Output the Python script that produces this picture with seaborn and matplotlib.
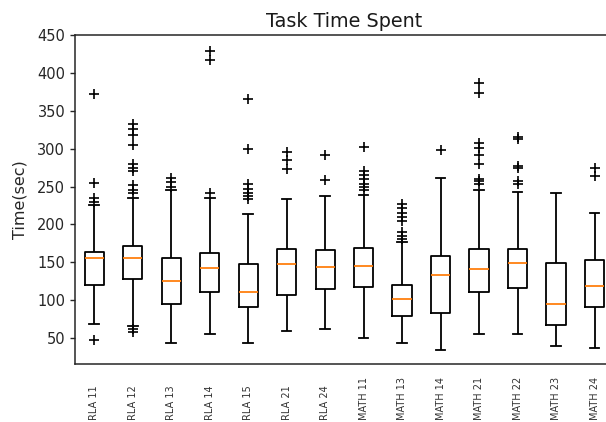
import matplotlib
matplotlib.use("Agg")
import matplotlib.pyplot as plt
import pandas as pd
import seaborn as sns

# Five-number summaries per task (seconds) and the points beyond the whiskers
tasks = ["RLA 11", "RLA 12", "RLA 13", "RLA 14", "RLA 15", "RLA 21", "RLA 24",
         "MATH 11", "MATH 13", "MATH 14", "MATH 21", "MATH 22", "MATH 23", "MATH 24"]

q1 = [120, 128, 95, 111, 91, 106, 114, 117, 79, 82, 110, 115, 67, 91]
median = [155, 156, 125, 142, 110, 147, 144, 145, 101, 133, 141, 149, 95, 118]
q3 = [163, 171, 155, 162, 147, 167, 166, 168, 119, 158, 167, 167, 149, 153]
whisker_low = [68, 66, 43, 55, 43, 59, 61, 50, 43, 33, 55, 55, 39, 36]
whisker_high = [225, 235, 245, 235, 213, 234, 237, 239, 176, 261, 245, 243, 242, 215]

outliers = [
    [372, 255, 235, 230, 47],
    [333, 326, 318, 305, 280, 275, 271, 252, 246, 241, 61, 58],
    [261, 256, 250],
    [429, 417, 241],
    [366, 300, 253, 247, 242, 237, 233],
    [296, 285, 273],
    [292, 258],
    [302, 270, 265, 260, 254, 249, 245],
    [227, 222, 215, 210, 205, 190, 185, 181],
    [299],
    [387, 374, 307, 301, 292, 280, 260, 257, 254],
    [316, 313, 277, 274, 257, 253],
    [],
    [275, 264],
]

y_ticks = [50, 100, 150, 200, 250, 300, 350, 400, 450]


def summary_sample(lo, a, m, b, hi, extra, reps=60):
    """Sample whose quartiles, whisker ends and outliers equal the given summary."""
    return [lo] + [a] * reps + [m] * reps + [b] * reps + [hi] + list(extra)


rows = []
for i, task in enumerate(tasks):
    for v in summary_sample(whisker_low[i], q1[i], median[i], q3[i],
                            whisker_high[i], outliers[i]):
        rows.append({"task": task, "time": v})
df = pd.DataFrame(rows)

plt.rcParams.update({
    "font.family": ["DejaVu Sans"],
    "axes.edgecolor": "#262626",
    "axes.linewidth": 1.1,
    "xtick.color": "#262626",
    "ytick.color": "#262626",
})

fig = plt.figure(figsize=(6.06, 4.22), dpi=100)
ax = fig.add_axes([0.1238, 0.1374, 0.889, 0.7785])

sns.boxplot(
    data=df, x="task", y="time", order=tasks, ax=ax,
    width=0.5, fill=False, color="black", linewidth=1.3, whis=1.5,
    medianprops=dict(color="#ff7f0e", linewidth=1.3),
    flierprops=dict(marker="+", markersize=7, markeredgecolor="black",
                    markeredgewidth=1.2),
)

ax.set_xlim(-0.5, len(tasks) - 0.5)
ax.set_ylim(15, 450)
ax.set_yticks(y_ticks)
ax.set_xticks(range(len(tasks)))
ax.set_xticklabels(tasks, rotation=90, va="bottom", fontsize=7, color="#333333")
ax.tick_params(axis="x", length=0, pad=40)
ax.tick_params(axis="y", labelsize=10.5, length=3.5, width=1.0)

ax.set_xlabel("")
ax.set_ylabel("Time(sec)", fontsize=11.5, labelpad=7, color="#262626")
ax.set_title("Task Time Spent", fontsize=13.8, pad=6, color="#1a1a1a")

fig.savefig("out.png", dpi=100, facecolor="white")
